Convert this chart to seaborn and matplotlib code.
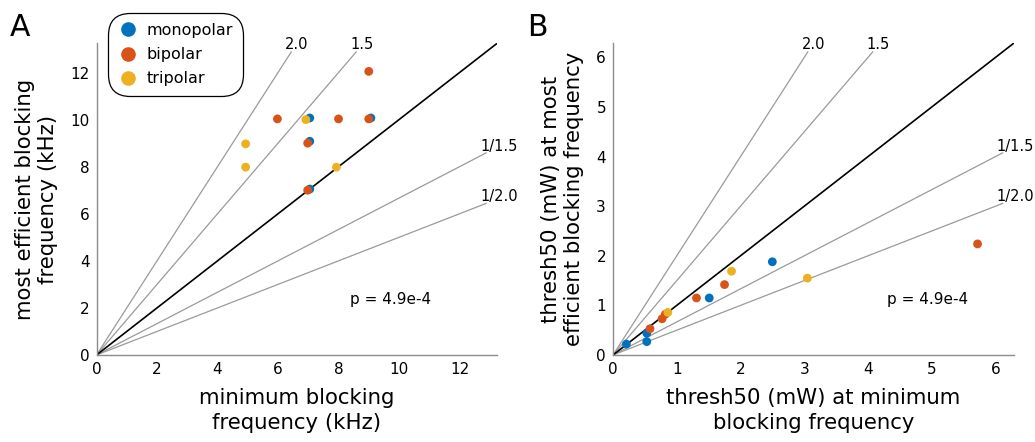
import numpy as np
import pandas as pd
import matplotlib
matplotlib.use("Agg")
import matplotlib.pyplot as plt
import seaborn as sns

sns.set_style("white")
plt.rcParams["font.family"] = ["DejaVu Sans"]
plt.rcParams["text.color"] = "black"
plt.rcParams["axes.labelcolor"] = "black"
plt.rcParams["xtick.labelcolor"] = "black"
plt.rcParams["ytick.labelcolor"] = "black"

CONFIGS = ["monopolar", "bipolar", "tripolar"]
COLORS = ["#0072BD", "#D95319", "#EDB120"]

# panel A: minimum vs most efficient blocking frequency (kHz)
freq_cfg = ["monopolar"] * 4 + ["bipolar"] * 6 + ["tripolar"] * 4
freq_min = [7.05, 7.05, 7.05, 9.07, 5.98, 6.98, 6.98, 8.0, 9.0, 9.0, 4.93, 4.93, 6.92, 7.93]
freq_best = [10.07, 9.08, 7.05, 10.07, 10.03, 9.0, 7.0, 10.03, 10.03, 12.05, 8.97, 7.98, 10.0, 7.98]

# panel B: thresh50 (mW) at minimum vs at most efficient frequency
thr_cfg = ["monopolar"] * 5 + ["bipolar"] * 6 + ["tripolar"] * 3
thr_min = [0.21, 0.53, 0.53, 1.51, 2.50, 0.58, 0.77, 0.82, 1.31, 1.75, 5.72, 0.86, 1.86, 3.05]
thr_best = [0.22, 0.44, 0.27, 1.15, 1.88, 0.53, 0.73, 0.82, 1.15, 1.42, 2.24, 0.86, 1.69, 1.55]

RATIOS = [2.0, 1.5, 1 / 1.5, 1 / 2.0]
RATIO_LABELS = ["2.0", "1.5", "1/1.5", "1/2.0"]
P_TEXT = "p = 4.9e-4"

GRAY = "#9a9a9a"
SPINE = "#8c8c8c"


def draw(ax, x, y, cfg, xlabel, ylabel, ptext_xy):
    lim = 1.1 * max(max(x), max(y))
    end = 0.972 * lim
    for r, lab in zip(RATIOS, RATIO_LABELS):
        xe, ye = (end / r, end) if r > 1 else (end, end * r)
        ax.plot([0, xe], [0, ye], color=GRAY, lw=0.9, zorder=1)
        ax.annotate(lab, (xe, ye), xytext=(-4.5, -0.5), textcoords="offset points",
                    ha="left", va="bottom", fontsize=10.5)
    ax.plot([0, lim], [0, lim], color="black", lw=1.2, zorder=2)

    df = pd.DataFrame({"x": x, "y": y, "config": cfg})
    sns.scatterplot(data=df, x="x", y="y", hue="config", hue_order=CONFIGS,
                    palette=dict(zip(CONFIGS, COLORS)), s=40, edgecolor="none",
                    ax=ax, legend=False, zorder=3)

    ax.set_xlim(0, lim)
    ax.set_ylim(0, lim)
    ax.text(*ptext_xy, P_TEXT, fontsize=11, ha="center", va="center")
    ax.set_xlabel(xlabel, fontsize=15.3, linespacing=1.3, labelpad=8)
    ax.set_ylabel(ylabel, fontsize=15.3, linespacing=1.2, labelpad=9)
    for side in ["top", "right"]:
        ax.spines[side].set_visible(False)
    for side in ["left", "bottom"]:
        ax.spines[side].set_color(SPINE)
        ax.spines[side].set_linewidth(1.0)
    ax.tick_params(direction="in", length=4, width=0.8, color=SPINE,
                   labelsize=11, pad=5)


fig = plt.figure(figsize=(10.35, 4.42), dpi=100)
axA = fig.add_axes([96.5 / 1035, 87 / 442, 401 / 1035, 312 / 442])
axB = fig.add_axes([613 / 1035, 87 / 442, 401 / 1035, 312 / 442])

draw(axA, freq_min, freq_best, freq_cfg,
     "minimum blocking\nfrequency (kHz)",
     "most efficient blocking\nfrequency (kHz)", (9.72, 2.36))
axA.set_xticks([0, 2, 4, 6, 8, 10, 12])
axA.set_yticks([0, 2, 4, 6, 8, 10, 12])

draw(axB, thr_min, thr_best, thr_cfg,
     "thresh50 (mW) at minimum\nblocking frequency",
     "thresh50 (mW) at most\nefficient blocking frequency", (4.94, 1.12))
axB.set_xticks(range(7))
axB.set_yticks(range(7))

handles = [plt.Line2D([], [], marker="o", ls="none", color=c, markersize=9.5) for c in COLORS]
leg = fig.legend(handles, CONFIGS, loc="upper left",
                 bbox_to_anchor=(108 / 1035, 1 - 13 / 442), bbox_transform=fig.transFigure,
                 fontsize=11.5, frameon=True, fancybox=True, borderaxespad=0,
                 handletextpad=0.5, handlelength=1.3, labelspacing=0.58,
                 borderpad=0.62)
frame = leg.get_frame()
frame.set_edgecolor("black")
frame.set_linewidth(0.9)
frame.set_alpha(1)
frame.set_boxstyle("round,pad=0,rounding_size=1.4")

fig.text(10 / 1035, 1 - 13 / 442, "A", fontsize=21.5, ha="left", va="top")
fig.text(527 / 1035, 1 - 13 / 442, "B", fontsize=21.5, ha="left", va="top")

fig.savefig("out.png", dpi=100)
